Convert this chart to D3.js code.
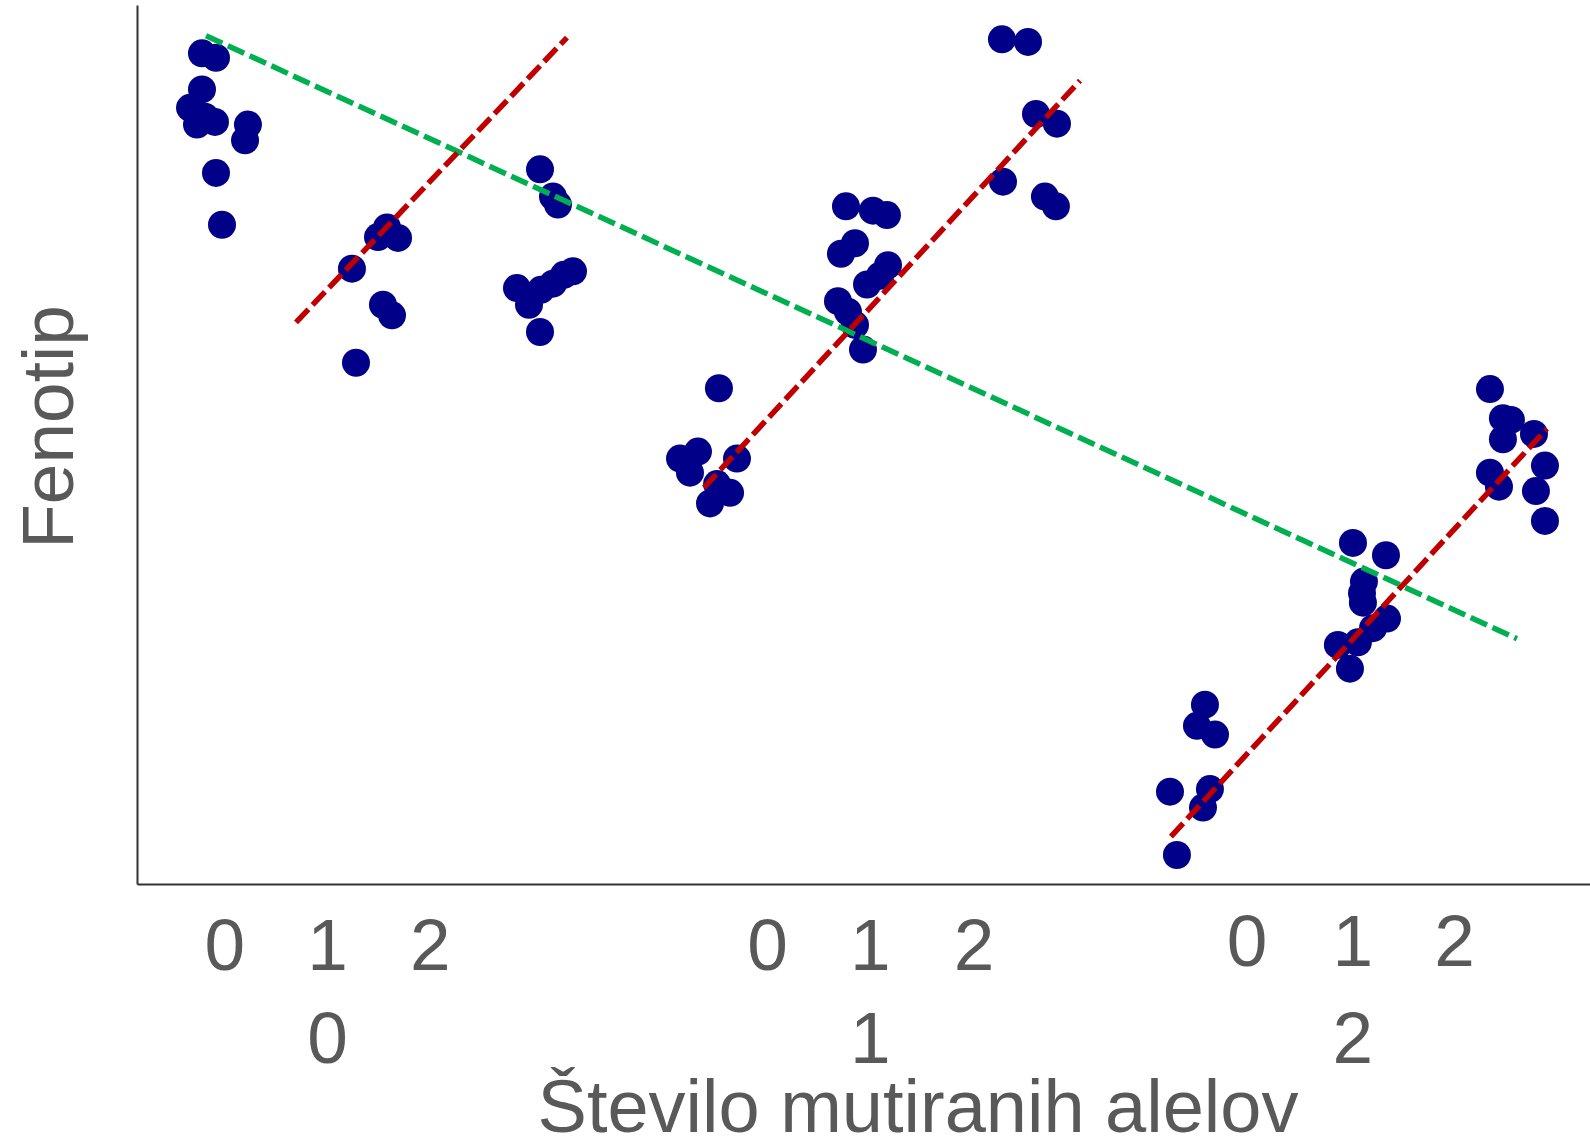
<!DOCTYPE html>
<html>
<head>
<meta charset="utf-8">
<script src="https://cdn.jsdelivr.net/npm/d3@7"></script>
<style>
  body { margin: 0; background: #fff; }
  text { font-family: "Liberation Sans", Arial, sans-serif; fill: #595959; }
</style>
</head>
<body>
<svg id="chart"></svg>
<script>
// tick labels: genotype of the 2nd gene (row 1) and of the 1st gene (row 2)
const innerLabels = ['0', '1', '2', '0', '1', '2', '0', '1', '2'];
const innerPos = [0.84, 1.83, 2.82, 6.07, 7.06, 8.06, 10.69, 11.71, 12.69];
const outerLabels = ['0', '1', '2'];
const outerPos = [1.83, 7.06, 11.71];

// points: [position, phenotype]
const grp00 = [[0.626, 94.5], [0.761, 94.0], [0.626, 90.4], [0.511, 88.3], [0.578, 86.4], [0.751, 86.7],
  [0.655, 87.3], [1.069, 86.4], [1.041, 84.6], [0.761, 80.9], [0.819, 75.0]];
const grp01 = [[2.409, 74.7], [2.322, 73.6], [2.515, 73.5], [2.071, 70.0], [2.370, 65.9], [2.457, 64.7], [2.110, 59.3]];
const grp02 = [[3.883, 81.3], [4.008, 78.2], [4.056, 77.3], [3.661, 67.8], [3.777, 65.9], [3.892, 67.6],
  [4.008, 68.3], [4.114, 69.3], [4.201, 69.7], [3.883, 62.8]];
const grp10 = [[5.607, 56.4], [5.232, 48.4], [5.405, 49.2], [5.328, 46.8], [5.781, 48.4], [5.521, 43.3],
  [5.714, 44.5], [5.589, 45.5]];
const grp11 = [[6.831, 77.1], [7.091, 76.6], [7.226, 76.1], [6.918, 72.9], [6.783, 71.7], [7.236, 70.4],
  [7.159, 69.2], [7.034, 68.2], [6.754, 66.3], [6.850, 65.1], [6.918, 63.6], [6.995, 60.8]];
const grp12 = [[8.334, 96.1], [8.585, 95.8], [8.662, 87.6], [8.864, 86.5], [8.344, 79.9], [8.748, 78.2], [8.854, 77.1]];
const grp20 = [[10.290, 20.4], [10.213, 18.0], [10.387, 17.0], [9.953, 10.5], [10.338, 10.8],
  [10.271, 8.7], [10.020, 3.3]];
const grp21 = [[11.716, 38.8], [12.034, 37.4], [11.822, 34.4], [11.803, 33.1], [11.812, 32.0], [12.044, 30.2],
  [11.909, 29.1], [11.571, 27.2], [11.764, 27.5], [11.687, 24.5]];
const grp22 = [[13.036, 56.3], [13.161, 53.0], [13.238, 52.8], [13.161, 50.6], [13.460, 51.2], [13.036, 46.8],
  [13.123, 45.2], [13.566, 47.6], [13.479, 44.7], [13.566, 41.3]];

// trend lines
const greenLine = [[0.665, 96.5], [13.296, 27.9]];
const redLines = [
  [[1.532, 63.9], [4.143, 96.3]],
  [[5.463, 45.1], [9.086, 91.4]],
  [[9.962, 5.4], [13.585, 51.8]]
];

const width = 1590, height = 1144;
const margin = { top: 5, right: 0, bottom: 260, left: 137 };

const svg = d3.select('#chart')
  .attr('width', width)
  .attr('height', height);

const x = d3.scaleLinear().domain([0, 14]).range([margin.left, width - margin.right]);
const y = d3.scaleLinear().domain([0, 100]).range([height - margin.bottom, margin.top]);

// axes
let xAxis = svg.append('g')
  .attr('transform', `translate(0,${y(0)})`)
  .call(d3.axisBottom(x).tickValues(innerPos).tickFormat((d, i) => innerLabels[i]).tickSize(0).tickSizeOuter(0));
xAxis.select('.domain').attr('stroke', '#333').attr('stroke-width', 2);
xAxis.selectAll('text')
  .attr('dy', null)
  .attr('y', (d, i) => i >= 6 ? 82 : 86)
  .style('font-size', '73px')
  .attr('fill', '#595959');

let xAxis2 = svg.append('g')
  .attr('transform', `translate(0,${y(0)})`)
  .call(d3.axisBottom(x).tickValues(outerPos).tickFormat((d, i) => outerLabels[i]).tickSize(0));
xAxis2.select('.domain').remove();
xAxis2.selectAll('text')
  .attr('dy', null)
  .attr('y', 179)
  .style('font-size', '73px')
  .attr('fill', '#595959');

let yAxis = svg.append('g')
  .attr('transform', `translate(${x(0)},0)`)
  .call(d3.axisLeft(y).tickValues([]).tickSizeOuter(0));
yAxis.select('.domain').attr('stroke', '#333').attr('stroke-width', 2);

// labels
svg.append('text')
  .attr('x', 918)
  .attr('y', 1132)
  .attr('text-anchor', 'middle')
  .style('font-size', '74px')
  .text('Število mutiranih alelov');

svg.append('text')
  .attr('transform', 'translate(73,427) rotate(-90)')
  .attr('text-anchor', 'middle')
  .style('font-size', '73px')
  .text('Fenotip');

// points
const allDots = [grp00, grp01, grp02, grp10, grp11, grp12, grp20, grp21, grp22].flat();
svg.append('g')
  .selectAll('circle')
  .data(allDots)
  .enter().append('circle')
  .attr('cx', d => x(d[0]))
  .attr('cy', d => y(d[1]))
  .attr('r', 14)
  .attr('fill', '#000088');

// lines
const line = d3.line().x(d => x(d[0])).y(d => y(d[1]));

svg.append('path')
  .datum(greenLine)
  .attr('d', line)
  .attr('fill', 'none')
  .attr('stroke', '#00b050')
  .attr('stroke-width', 5.5)
  .attr('stroke-dasharray', '18,6');

svg.append('g')
  .selectAll('path')
  .data(redLines)
  .enter().append('path')
  .attr('d', line)
  .attr('fill', 'none')
  .attr('stroke', '#c00000')
  .attr('stroke-width', 5.5)
  .attr('stroke-dasharray', '18,6');
</script>
</body>
</html>
